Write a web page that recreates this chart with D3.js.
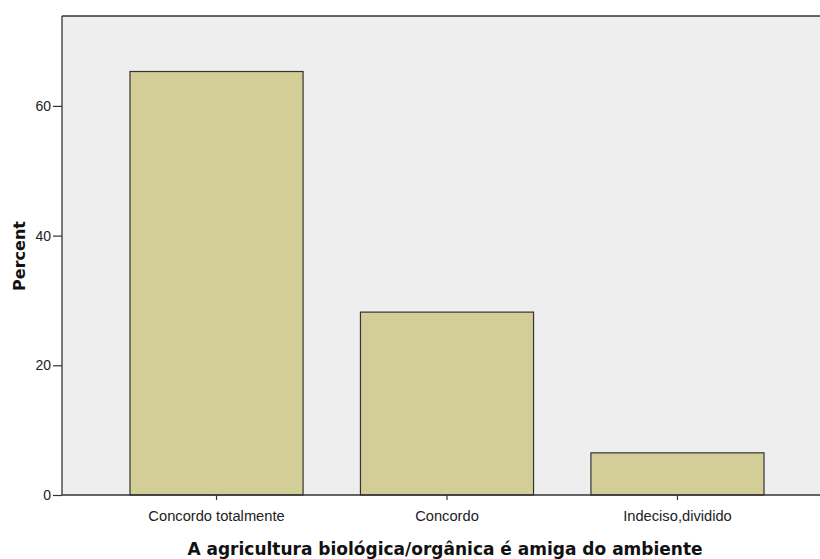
<!DOCTYPE html>
<html><head><meta charset="utf-8">
<script src="https://cdn.jsdelivr.net/npm/d3@7"></script>
<style>body{margin:0;background:#fff}svg{display:block}</style>
</head><body>
<script>
const categories = ["Concordo totalmente", "Concordo", "Indeciso,dividido"];
const percents = [65.3, 28.2, 6.5];
const yTicks = [0, 20, 40, 60];
const xTitle = "A agricultura biológica/orgânica é amiga do ambiente";
const yTitle = "Percent";

const W = 820, H = 559;
const L = 62, T = 16, R = 832, B = 495;
const svg = d3.select("body").append("svg").attr("width", W).attr("height", H);

const x = d3.scaleBand().domain(categories).range([L, R]).paddingInner(0.249).paddingOuter(0.295);
const y = d3.scaleLinear().domain([0, 73.86]).range([B, T]);

svg.append("rect").attr("x", L).attr("y", T).attr("width", R - L).attr("height", B - T).attr("fill", "#eeeeee");

svg.selectAll("rect.bar").data(categories).enter().append("rect")
  .attr("class", "bar")
  .attr("x", d => x(d)).attr("width", x.bandwidth())
  .attr("y", (d, i) => y(percents[i])).attr("height", (d, i) => B - y(percents[i]))
  .attr("fill", "#d3ce98").attr("stroke", "#333").attr("stroke-width", 1.2);

svg.append("line").attr("x1", L).attr("x2", W).attr("y1", T).attr("y2", T).attr("stroke", "#333").attr("stroke-width", 1.3);

const tickFont = "Arial, 'Liberation Sans', sans-serif";
const yAxis = svg.append("g").attr("transform", `translate(${L},0)`)
  .call(d3.axisLeft(y).tickValues(yTicks).tickSize(9).tickPadding(2).tickSizeOuter(0));
yAxis.select(".domain").attr("stroke", "#333").attr("stroke-width", 1.3).attr("d", `M0,${T}V${B}`);
yAxis.selectAll(".tick line").attr("stroke", "#333").attr("stroke-width", 1.2);
yAxis.selectAll("text").attr("font-family", tickFont).attr("font-size", 14).attr("fill", "#222");

const xAxis = svg.append("g").attr("transform", `translate(0,${B})`)
  .call(d3.axisBottom(x).tickSize(5).tickPadding(6).tickSizeOuter(0));
xAxis.select(".domain").attr("stroke", "#333").attr("stroke-width", 1.3).attr("d", `M${L},0H${W}`);
xAxis.selectAll(".tick line").attr("stroke", "#333").attr("stroke-width", 1.2);
xAxis.selectAll("text").attr("font-family", tickFont).attr("font-size", 14.7).attr("fill", "#222")
  .attr("dy", null).attr("y", 26);

const titleFont = "'DejaVu Sans', Verdana, sans-serif";
svg.append("text").attr("x", 445).attr("y", 555).attr("text-anchor", "middle")
  .attr("font-family", titleFont).attr("font-weight", "bold").attr("font-size", 17).attr("fill", "#111")
  .text(xTitle);

svg.append("text").attr("transform", "translate(25,256) rotate(-90)").attr("text-anchor", "middle")
  .attr("font-family", titleFont).attr("font-weight", "bold").attr("font-size", 16).attr("fill", "#111")
  .text(yTitle);
</script>
</body></html>
